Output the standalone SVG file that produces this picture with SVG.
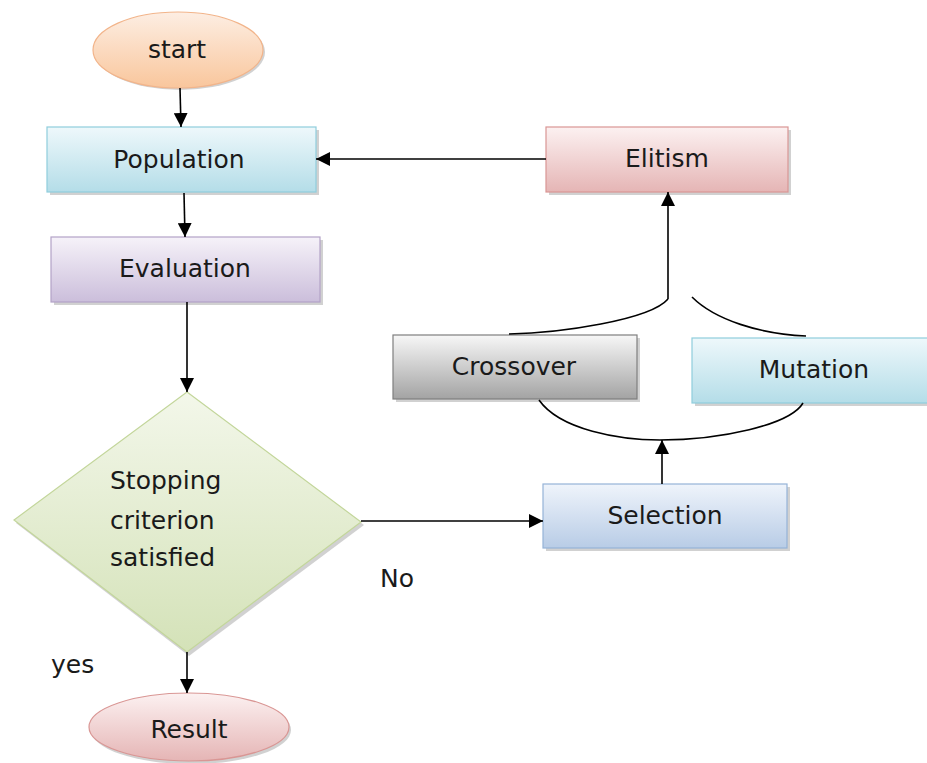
<svg xmlns="http://www.w3.org/2000/svg" width="927" height="763" viewBox="0 0 927 763">
<defs>
<linearGradient id="gOrange" x1="0" y1="0" x2="0" y2="1"><stop offset="0" stop-color="#fdeee3"/><stop offset="1" stop-color="#f9c69c"/></linearGradient>
<linearGradient id="gBlue" x1="0" y1="0" x2="0" y2="1"><stop offset="0" stop-color="#eef8fb"/><stop offset="1" stop-color="#b4dde8"/></linearGradient>
<linearGradient id="gPurple" x1="0" y1="0" x2="0" y2="1"><stop offset="0" stop-color="#f6f2f9"/><stop offset="1" stop-color="#cbbedb"/></linearGradient>
<linearGradient id="gPink" x1="0" y1="0" x2="0" y2="1"><stop offset="0" stop-color="#fcf1f1"/><stop offset="1" stop-color="#e5b5b5"/></linearGradient>
<linearGradient id="gGray" x1="0" y1="0" x2="0" y2="1"><stop offset="0" stop-color="#f7f7f7"/><stop offset="1" stop-color="#a3a3a3"/></linearGradient>
<linearGradient id="gSel" x1="0" y1="0" x2="0" y2="1"><stop offset="0" stop-color="#eff4fb"/><stop offset="1" stop-color="#b8cce6"/></linearGradient>
<linearGradient id="gGreen" x1="0" y1="0" x2="0" y2="1"><stop offset="0" stop-color="#f3f7ea"/><stop offset="1" stop-color="#d4e2b8"/></linearGradient>
<marker id="arr" viewBox="0 0 10 10" refX="10" refY="5" markerWidth="14" markerHeight="14" markerUnits="userSpaceOnUse" orient="auto"><path d="M0,0 L10,5 L0,10 z" fill="#000"/></marker>
</defs>
<style>
.lbl{font-family:"DejaVu Sans","Liberation Sans",sans-serif;font-size:25px;fill:#1a1a1a;text-anchor:middle;dominant-baseline:central}
.plain{font-family:"DejaVu Sans","Liberation Sans",sans-serif;font-size:25px;fill:#1a1a1a}
.shadow{fill:#9a9a9a;opacity:0.45}
.conn{fill:none;stroke:#000;stroke-width:1.6}
</style>
<rect width="927" height="763" fill="#fff"/>

<g id="start">
<ellipse class="shadow" cx="180" cy="52" rx="85" ry="38"/>
<ellipse cx="178" cy="50" rx="85" ry="38" fill="url(#gOrange)" stroke="#f2b48a" stroke-width="1.2"/>
<text class="lbl" x="177" y="49">start</text>
</g>

<g id="population">
<rect class="shadow" x="50" y="130" width="269" height="65"/>
<rect x="47" y="127" width="269" height="65" fill="url(#gBlue)" stroke="#8fcddc" stroke-width="1.2"/>
<text class="lbl" x="179" y="159">Population</text>
</g>

<g id="evaluation">
<rect class="shadow" x="54" y="240" width="269" height="65"/>
<rect x="51" y="237" width="269" height="65" fill="url(#gPurple)" stroke="#b3a2c7" stroke-width="1.2"/>
<text class="lbl" x="185" y="268">Evaluation</text>
</g>

<g id="decision">
<polygon class="shadow" points="189,395 364,525 189,656 16,523"/>
<polygon points="187,392 361,522 187,652 14,520" fill="url(#gGreen)" stroke="#c3d69b" stroke-width="1.2"/>
<text class="plain" x="110" y="489">Stopping</text>
<text class="plain" x="110" y="529">criterion</text>
<text class="plain" x="110" y="566">satisfied</text>
</g>

<g id="result">
<ellipse class="shadow" cx="191" cy="730" rx="100" ry="34"/>
<ellipse cx="189" cy="727" rx="100" ry="34" fill="url(#gPink)" stroke="#d99694" stroke-width="1.2"/>
<text class="lbl" x="189" y="729">Result</text>
</g>

<g id="elitism">
<rect class="shadow" x="549" y="130" width="242" height="65"/>
<rect x="546" y="127" width="242" height="65" fill="url(#gPink)" stroke="#d99694" stroke-width="1.2"/>
<text class="lbl" x="667" y="158">Elitism</text>
</g>

<g id="crossover">
<rect class="shadow" x="396" y="338" width="244" height="64"/>
<rect x="393" y="335" width="244" height="64" fill="url(#gGray)" stroke="#7f7f7f" stroke-width="1.2"/>
<text class="lbl" x="514" y="366">Crossover</text>
</g>

<g id="mutation">
<rect class="shadow" x="695" y="341" width="240" height="65"/>
<rect x="692" y="338" width="240" height="65" fill="url(#gBlue)" stroke="#8fcddc" stroke-width="1.2"/>
<text class="lbl" x="814" y="369">Mutation</text>
</g>

<g id="selection">
<rect class="shadow" x="546" y="487" width="244" height="64"/>
<rect x="543" y="484" width="244" height="64" fill="url(#gSel)" stroke="#95b3d7" stroke-width="1.2"/>
<text class="lbl" x="665" y="515">Selection</text>
</g>

<g id="labels">
<text class="plain" x="380" y="587">No</text>
<text class="plain" x="51" y="673">yes</text>
</g>

<g id="connectors">
<line class="conn" x1="180" y1="88" x2="181" y2="127" marker-end="url(#arr)"/>
<line class="conn" x1="184" y1="193" x2="185" y2="237" marker-end="url(#arr)"/>
<line class="conn" x1="187" y1="302" x2="187" y2="392" marker-end="url(#arr)"/>
<line class="conn" x1="187" y1="652" x2="187" y2="693" marker-end="url(#arr)"/>
<line class="conn" x1="361" y1="521" x2="543" y2="521" marker-end="url(#arr)"/>
<line class="conn" x1="546" y1="159" x2="316" y2="159" marker-end="url(#arr)"/>
<line class="conn" x1="668" y1="299" x2="668" y2="192" marker-end="url(#arr)"/>
<path class="conn" d="M668,299 C650,320 560,333 509,334"/>
<path class="conn" d="M692,297 C715,320 760,334 806,336"/>
<path class="conn" d="M539,400 C560,430 620,440 660,440 C720,440 790,425 803,403"/>
<line class="conn" x1="662" y1="484" x2="662" y2="440" marker-end="url(#arr)"/>
</g>
</svg>
